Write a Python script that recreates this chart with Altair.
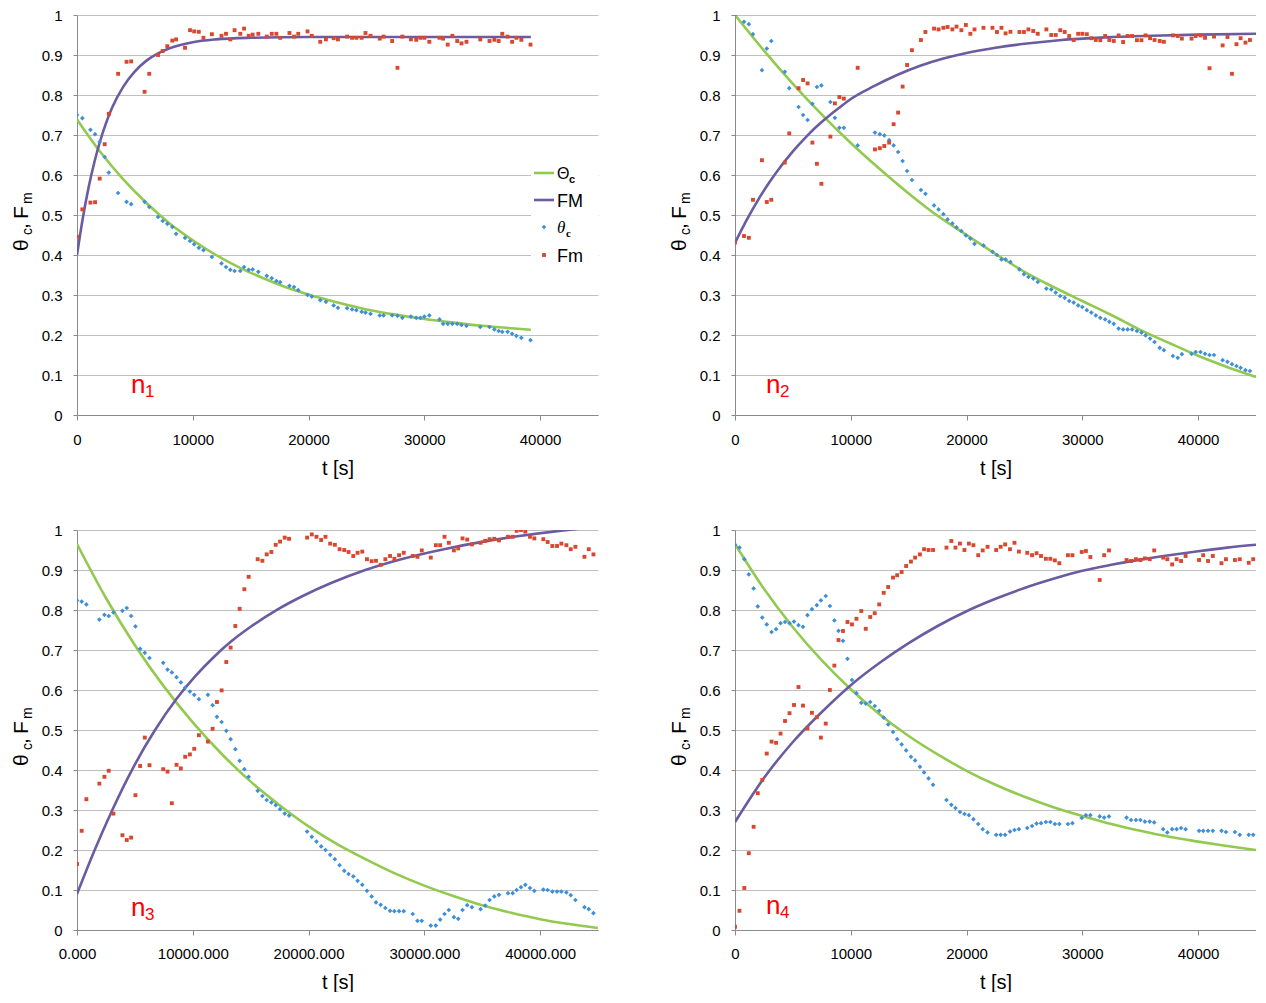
import altair as alt
import pandas as pd

FONT = "Liberation Sans"
GREEN = "#92C94F"
PURPLE = "#6B5BA0"
BLUE = "#3F8FD8"
RED = "#D9472F"
LABEL_RED = "#FF0000"

X_TICKS = [0, 10000, 20000, 30000, 40000]
Y_TICKS = [0, 0.1, 0.2, 0.3, 0.4, 0.5, 0.6, 0.7, 0.8, 0.9, 1.0]

# ---------------- panel n1 ----------------
T1 = [0, 460, 1160, 1560, 1960, 2390, 2750, 3550, 4280, 4680, 5840, 6240, 7000, 7400, 7800, 8230, 8560, 9330,
      9760, 10120, 10520, 10920, 11650, 12480, 12870, 13240, 13610, 14100, 14430, 14830, 15170, 15660, 16390,
      16820, 17220, 17550, 18350, 18750, 19110, 19910, 20280, 21010, 21500, 22170, 22540, 23330, 23760, 24130,
      24590, 24920, 25350, 26150, 26480, 27220, 27680, 28100, 28840, 29300, 29660, 30000, 30430, 31310, 31620,
      32020, 32420, 32840, 33210, 33640, 34830, 35630, 36050, 36420, 36730, 37190, 37580, 37950, 38380, 39170]
THETA1 = [0.750, 0.742, 0.713, 0.702, 0.683, 0.645, 0.606, 0.555, 0.533, 0.527, 0.533, 0.520, 0.495, 0.485, 0.478,
          0.470, 0.453, 0.443, 0.435, 0.427, 0.418, 0.412, 0.395, 0.379, 0.370, 0.363, 0.360, 0.360, 0.370, 0.363,
          0.364, 0.358, 0.348, 0.342, 0.335, 0.332, 0.323, 0.320, 0.312, 0.300, 0.296, 0.287, 0.283, 0.274, 0.268,
          0.267, 0.264, 0.262, 0.258, 0.256, 0.253, 0.249, 0.249, 0.249, 0.248, 0.243, 0.246, 0.243, 0.243, 0.246,
          0.249, 0.239, 0.228, 0.228, 0.228, 0.228, 0.225, 0.223, 0.220, 0.220, 0.214, 0.210, 0.208, 0.208, 0.203,
          0.198, 0.193, 0.187]
FMP1 = [0.446, 0.514, 0.531, 0.532, 0.591, 0.677, 0.753, 0.853, 0.883, 0.884, 0.808, 0.853, 0.900, 0.910, 0.922,
        0.936, 0.939, 0.918, 0.962, 0.959, 0.958, 0.943, 0.952, 0.948, 0.953, 0.939, 0.962, 0.953, 0.966, 0.948,
        0.951, 0.953, 0.946, 0.953, 0.953, 0.943, 0.955, 0.946, 0.953, 0.959, 0.948, 0.933, 0.939, 0.942, 0.939,
        0.946, 0.943, 0.943, 0.943, 0.955, 0.948, 0.941, 0.946, 0.935, 0.868, 0.946, 0.939, 0.938, 0.943, 0.943,
        0.933, 0.943, 0.941, 0.926, 0.948, 0.935, 0.929, 0.933, 0.939, 0.935, 0.938, 0.935, 0.953, 0.946, 0.933,
        0.943, 0.938, 0.926]
FIT1_TH_T = [0, 2000, 4000, 6000, 8000, 10000, 12000, 14000, 16000, 18000, 20000, 22500, 25000, 27500, 30000,
             32500, 35000, 37500, 39200]
FIT1_TH = [0.739, 0.658, 0.589, 0.530, 0.479, 0.437, 0.400, 0.369, 0.343, 0.320, 0.301, 0.281, 0.264, 0.251,
           0.240, 0.231, 0.223, 0.217, 0.213]
FIT1_FM_T = [0, 500, 1000, 1500, 2000, 2500, 3000, 4000, 5000, 6000, 7000, 8000, 10000, 12000, 15000, 20000,
             25000, 30000, 35000, 39200]
FIT1_FM = [0.400, 0.492, 0.569, 0.632, 0.685, 0.729, 0.766, 0.821, 0.859, 0.886, 0.904, 0.917, 0.932, 0.939,
           0.943, 0.945, 0.945, 0.945, 0.945, 0.945]

# ---------------- panel n2 ----------------
T2 = [0, 776, 1194, 1552, 2328, 2746, 3134, 4298, 4686, 5492, 5881, 6269, 6686, 7074, 7463, 8239, 8627, 9015,
      9403, 10597, 12089, 12507, 12895, 13313, 13701, 14089, 14477, 14865, 15283, 16059, 16447, 17193, 17582,
      17999, 18358, 18776, 19134, 19552, 19940, 20328, 20686, 21462, 22238, 22626, 23014, 23373, 23791, 24567,
      24955, 25343, 25761, 26149, 26895, 27313, 27701, 28089, 28477, 28865, 29253, 29641, 29999, 30387, 30776,
      31164, 31552, 31970, 32328, 32716, 33134, 33522, 33910, 34298, 34716, 35104, 35462, 35850, 36238, 36686,
      37044, 37821, 38239, 38597, 39433, 39791, 40209, 40597, 40985, 41373, 42119, 42537, 42925, 43313, 43671,
      44089, 44477]
THETA2 = [1.0, 0.983, 0.977, 0.952, 0.862, 0.916, 0.935, 0.858, 0.817, 0.77, 0.75, 0.7375, 0.778, 0.82, 0.824,
          0.7825, 0.743, 0.718, 0.718, 0.674, 0.706, 0.702, 0.699, 0.687, 0.674, 0.6575, 0.635, 0.61, 0.5875,
          0.5625, 0.553, 0.524, 0.514, 0.502, 0.489, 0.479, 0.469, 0.46, 0.449, 0.441, 0.428, 0.424, 0.408, 0.4,
          0.389, 0.389, 0.3825, 0.364, 0.352, 0.345, 0.341, 0.3325, 0.316, 0.314, 0.306, 0.2975, 0.293, 0.285,
          0.281, 0.274, 0.27, 0.262, 0.256, 0.249, 0.243, 0.239, 0.233, 0.228, 0.216, 0.214, 0.214, 0.214, 0.21,
          0.206, 0.199, 0.191, 0.1825, 0.168, 0.162, 0.1475, 0.143, 0.152, 0.153, 0.1575, 0.1575, 0.153, 0.15,
          0.15, 0.137, 0.133, 0.127, 0.1225, 0.118, 0.112, 0.11]
FMP2 = [0.431, 0.4475, 0.443, 0.538, 0.637, 0.5325, 0.538, 0.631, 0.704, 0.817, 0.8375, 0.829, 0.681, 0.628,
        0.578, 0.696, 0.779, 0.795, 0.791, 0.868, 0.664, 0.667, 0.6725, 0.681, 0.727, 0.756, 0.821, 0.875, 0.912,
        0.9375, 0.9575, 0.966, 0.964, 0.968, 0.97, 0.964, 0.971, 0.962, 0.975, 0.953, 0.964, 0.968, 0.968,
        0.9575, 0.968, 0.954, 0.958, 0.9575, 0.9575, 0.964, 0.96, 0.953, 0.964, 0.95, 0.95, 0.962, 0.9575,
        0.9475, 0.9375, 0.953, 0.953, 0.952, 0.942, 0.9375, 0.937, 0.9475, 0.9375, 0.935, 0.949, 0.9325, 0.9475,
        0.9475, 0.937, 0.937, 0.949, 0.942, 0.9375, 0.935, 0.933, 0.949, 0.9475, 0.941, 0.941, 0.9475, 0.949,
        0.943, 0.867, 0.946, 0.924, 0.945, 0.853, 0.927, 0.942, 0.931, 0.9375]
FIT2_TH_T = [0, 2500, 5000, 7500, 10000, 12500, 15000, 17500, 20000, 22500, 25000, 27500, 30000, 32500, 35000,
             37500, 40000, 42500, 45000]
FIT2_TH = [1.0, 0.911, 0.828, 0.751, 0.680, 0.615, 0.554, 0.498, 0.450, 0.403, 0.358, 0.320, 0.285, 0.250,
           0.213, 0.180, 0.148, 0.120, 0.095]
FIT2_FM_T = [0, 1000, 2000, 3000, 4000, 5000, 6000, 7000, 8000, 9000, 10000, 12000, 14000, 16000, 18000, 20000,
             22500, 25000, 28000, 32000, 36000, 40000, 45000]
FIT2_FM = [0.430, 0.487, 0.538, 0.583, 0.623, 0.659, 0.691, 0.720, 0.745, 0.768, 0.790, 0.822, 0.850, 0.873,
           0.891, 0.905, 0.918, 0.928, 0.937, 0.944, 0.948, 0.951, 0.953]

# ---------------- panel n3 ----------------
T3 = [0, 405, 810, 1931, 2367, 2741, 3146, 3925, 4299, 4673, 5046, 5451, 5856, 6261, 7445, 7819, 8192, 8597,
      8971, 9345, 9750, 10124, 10529, 11307, 11712, 12086, 12491, 12896, 13270, 13675, 14049, 14454, 14827,
      15606, 16011, 16385, 16790, 17164, 17537, 17942, 18316, 19874, 20279, 20684, 21089, 21462, 21867, 22272,
      22677, 23082, 23456, 23861, 24235, 24640, 25045, 25450, 25823, 26228, 26633, 27038, 27412, 27817, 28222,
      29000, 29406, 29779, 30558, 30994, 31368, 31742, 32116, 32552, 32926, 33299, 33704, 34109, 34857, 35262,
      35636, 36041, 36446, 37224, 37629, 37972, 38346, 38720, 39125, 39499, 40278, 40651, 41056, 41461, 41835,
      42271, 42645, 43050, 43828, 44202, 44607]
THETA3 = [0.824, 0.821, 0.814, 0.776, 0.788, 0.785, 0.794, 0.798, 0.805, 0.785, 0.759, 0.703, 0.693, 0.68,
          0.668, 0.651, 0.644, 0.632, 0.619, 0.606, 0.596, 0.588, 0.577, 0.588, 0.562, 0.533, 0.52, 0.498, 0.477,
          0.452, 0.423, 0.402, 0.383, 0.348, 0.335, 0.325, 0.319, 0.312, 0.302, 0.291, 0.286, 0.246, 0.233,
          0.221, 0.209, 0.2, 0.188, 0.177, 0.162, 0.148, 0.14, 0.134, 0.123, 0.113, 0.098, 0.084, 0.069, 0.063,
          0.055, 0.048, 0.047, 0.047, 0.047, 0.04, 0.023, 0.023, 0.011, 0.011, 0.026, 0.04, 0.05, 0.032, 0.028,
          0.05, 0.062, 0.057, 0.052, 0.061, 0.075, 0.084, 0.088, 0.092, 0.092, 0.1, 0.107, 0.113, 0.105, 0.098,
          0.101, 0.1, 0.096, 0.096, 0.096, 0.094, 0.087, 0.075, 0.057, 0.052, 0.042]
FMP3 = [0.165, 0.248, 0.327, 0.366, 0.383, 0.398, 0.291, 0.237, 0.225, 0.231, 0.337, 0.41, 0.481, 0.412, 0.402,
        0.396, 0.317, 0.413, 0.404, 0.433, 0.439, 0.453, 0.487, 0.471, 0.503, 0.57, 0.599, 0.67, 0.706, 0.76,
        0.803, 0.852, 0.883, 0.927, 0.923, 0.939, 0.945, 0.963, 0.971, 0.981, 0.978, 0.981, 0.989, 0.983, 0.975,
        0.983, 0.966, 0.963, 0.952, 0.95, 0.945, 0.935, 0.943, 0.946, 0.927, 0.922, 0.923, 0.913, 0.927, 0.935,
        0.928, 0.937, 0.943, 0.935, 0.933, 0.949, 0.931, 0.962, 0.962, 0.983, 0.968, 0.949, 0.954, 0.979, 0.976,
        0.964, 0.968, 0.973, 0.977, 0.978, 0.974, 0.983, 0.983, 0.998, 1.0, 0.996, 0.983, 0.979, 0.977, 0.97,
        0.96, 0.96, 0.966, 0.962, 0.952, 0.958, 0.933, 0.952, 0.939]
FIT3_TH_T = [0, 2500, 5000, 7500, 10000, 12500, 15000, 17500, 20000, 22500, 25000, 27500, 30000, 32500, 35000,
             37500, 40000, 42500, 45000]
FIT3_TH = [0.965, 0.830, 0.712, 0.609, 0.519, 0.440, 0.371, 0.312, 0.259, 0.214, 0.176, 0.141, 0.111, 0.085,
           0.062, 0.043, 0.027, 0.015, 0.005]
FIT3_FM_T = [0, 1500, 3000, 4800, 6700, 8600, 10200, 11800, 13300, 15000, 17300, 19500, 22000, 24900, 28000,
             32000, 35100, 38200, 42000, 45000]
FIT3_FM = [0.090, 0.198, 0.297, 0.403, 0.498, 0.578, 0.634, 0.682, 0.721, 0.758, 0.801, 0.835, 0.868, 0.900,
           0.927, 0.954, 0.971, 0.985, 0.999, 1.008]

# ---------------- panel n4 ----------------
T4 = [0, 387, 805, 1192, 1609, 1967, 2354, 2742, 3159, 3546, 3934, 4321, 4708, 5096, 5483, 5871, 6258, 6645,
      7063, 7420, 7837, 8195, 8582, 8940, 9327, 9715, 10102, 10490, 10907, 11294, 11682, 12069, 12456, 12844,
      13231, 13648, 14006, 14393, 14781, 15198, 15556, 15973, 16330, 16718, 17105, 18267, 18685, 19042, 19430,
      19817, 20204, 20592, 21009, 21396, 21814, 22559, 22946, 23333, 23751, 24138, 24525, 25241, 25658, 26045,
      26433, 26850, 27237, 27625, 28012, 28757, 29144, 29949, 30307, 30694, 31499, 31886, 32303, 33823, 34210,
      34628, 35015, 35402, 35820, 36207, 36982, 37339, 37757, 38144, 38531, 38919, 40081, 40439, 40856, 41273,
      42018, 42405, 43180, 43597, 44372, 44760]
THETA4 = [0.963, 0.956, 0.927, 0.889, 0.854, 0.809, 0.781, 0.764, 0.745, 0.752, 0.767, 0.77, 0.767, 0.771,
          0.762, 0.758, 0.787, 0.802, 0.812, 0.824, 0.835, 0.81, 0.774, 0.748, 0.723, 0.678, 0.625, 0.592, 0.568,
          0.566, 0.57, 0.56, 0.548, 0.531, 0.514, 0.495, 0.477, 0.464, 0.449, 0.433, 0.424, 0.408, 0.394, 0.379,
          0.363, 0.325, 0.313, 0.305, 0.295, 0.29, 0.287, 0.277, 0.265, 0.252, 0.244, 0.238, 0.238, 0.238, 0.246,
          0.25, 0.252, 0.255, 0.26, 0.266, 0.267, 0.27, 0.27, 0.265, 0.265, 0.265, 0.267, 0.28, 0.287, 0.287,
          0.284, 0.281, 0.284, 0.281, 0.275, 0.275, 0.275, 0.271, 0.271, 0.269, 0.252, 0.244, 0.252, 0.252, 0.255,
          0.252, 0.248, 0.248, 0.248, 0.248, 0.248, 0.245, 0.245, 0.238, 0.238, 0.238]
FMP4 = [0.008, 0.048, 0.105, 0.192, 0.258, 0.342, 0.375, 0.441, 0.471, 0.468, 0.491, 0.5225, 0.542, 0.5625,
        0.6075, 0.561, 0.504, 0.543, 0.532, 0.481, 0.516, 0.6, 0.661, 0.725, 0.7475, 0.77, 0.764, 0.778, 0.7975,
        0.753, 0.7825, 0.792, 0.814, 0.843, 0.8575, 0.881, 0.887, 0.895, 0.91, 0.921, 0.931, 0.939, 0.952, 0.95,
        0.95, 0.956, 0.9725, 0.956, 0.966, 0.95, 0.966, 0.962, 0.937, 0.949, 0.958, 0.95, 0.958, 0.964, 0.952,
        0.968, 0.946, 0.943, 0.937, 0.942, 0.935, 0.928, 0.928, 0.924, 0.917, 0.937, 0.937, 0.945, 0.9475,
        0.9325, 0.875, 0.937, 0.949, 0.925, 0.9225, 0.927, 0.925, 0.929, 0.927, 0.949, 0.931, 0.927, 0.914,
        0.927, 0.9225, 0.935, 0.925, 0.937, 0.9225, 0.935, 0.917, 0.927, 0.925, 0.927, 0.918, 0.927]
FIT4_TH_T = [0, 2500, 5000, 7500, 10000, 12500, 15000, 17500, 20000, 22500, 25000, 27500, 30000, 32500, 35000,
             37500, 40000, 42500, 45000]
FIT4_TH = [0.965, 0.853, 0.757, 0.674, 0.602, 0.539, 0.485, 0.439, 0.398, 0.363, 0.333, 0.307, 0.285, 0.265,
           0.248, 0.233, 0.221, 0.210, 0.200]
FIT4_FM_T = [0, 2500, 5000, 7500, 10000, 12500, 15000, 17500, 20000, 22500, 25000, 27500, 30000, 32500, 35000,
             37500, 40000, 42500, 45000]
FIT4_FM = [0.270, 0.380, 0.470, 0.545, 0.612, 0.668, 0.717, 0.760, 0.797, 0.828, 0.855, 0.878, 0.898, 0.913,
           0.926, 0.937, 0.947, 0.956, 0.963]

W, H = 521, 400
ONE = pd.DataFrame({"a": [0]})


def xenc(fmt, label_pad, title_pad):
    return alt.X("t:Q",
                 scale=alt.Scale(domain=[0, 45000], nice=False, zero=False),
                 axis=alt.Axis(values=X_TICKS, format=fmt, title="t [s]", titleFontSize=20,
                               titleFontWeight="normal", titleColor="black", titlePadding=title_pad,
                               labelFontSize=15, labelColor="black", labelPadding=label_pad, labelFlush=False,
                               labelOverlap=False, tickSize=5, tickColor="#8a8a8a", domainColor="#8a8a8a",
                               grid=False))


def yenc():
    return alt.Y("v:Q",
                 scale=alt.Scale(domain=[0, 1], nice=False),
                 axis=alt.Axis(values=Y_TICKS, format=".1~f", title=None, labelFontSize=15,
                               labelColor="black", labelPadding=11, labelFlush=False, tickSize=4,
                               tickColor="#8a8a8a", domainColor="#8a8a8a", grid=True, gridColor="#c0c0c0",
                               gridWidth=1))


def txt(s, x, y, size, color="black", angle=0, weight="normal", style="normal", font=FONT):
    return alt.Chart(ONE).mark_text(text=s, fontSize=size, angle=angle, align="left", baseline="alphabetic",
                                    color=color, font=font, fontWeight=weight, fontStyle=style).encode(
        x=alt.value(x), y=alt.value(y))


def ytitle():
    return [
        txt("θ", -49, 236, 21, angle=270),
        txt("c", -45, 220, 14, angle=270),
        txt(",", -49, 214, 21, angle=270),
        txt("F", -49, 204, 21, angle=270),
        txt("m", -45, 189, 14, angle=270),
    ]


def panel(t, theta, fm, th_t, th_v, fm_t, fm_v, fmt, label_pad, title_pad, label_x, label_y, label_num,
          extra=None):
    X = xenc(fmt, label_pad, title_pad)
    Y = yenc()
    d_th = pd.DataFrame({"t": th_t, "v": th_v})
    d_fm = pd.DataFrame({"t": fm_t, "v": fm_v})
    p_th = pd.DataFrame([{"t": a, "v": b} for a, b in zip(t, theta)])
    p_fm = pd.DataFrame([{"t": a, "v": b} for a, b in zip(t, fm)])
    l_th = alt.Chart(d_th).mark_line(color=GREEN, strokeWidth=2.6, interpolate="monotone", clip=True).encode(x=X, y=Y)
    l_fm = alt.Chart(d_fm).mark_line(color=PURPLE, strokeWidth=2.6, interpolate="monotone", clip=True).encode(x=X, y=Y)
    s_th = alt.Chart(p_th).mark_point(shape="diamond", filled=True, size=22, color=BLUE, opacity=1,
                                      clip=True).encode(x=X, y=Y)
    s_fm = alt.Chart(p_fm).mark_square(size=15, color=RED, opacity=1, clip=True).encode(x=X, y=Y)
    layers = [l_th, l_fm, s_th, s_fm]
    layers += [txt("n", label_x, label_y, 26, color=LABEL_RED),
               txt(label_num, label_x + 14, label_y + 4, 17, color=LABEL_RED)]
    layers += ytitle()
    if extra:
        layers += extra
    return alt.layer(*layers).properties(width=W, height=H)


def legend_layers():
    box = alt.Chart(ONE).mark_rect(color="white").encode(
        x=alt.value(454), x2=alt.value(521), y=alt.value(146), y2=alt.value(252))
    g = alt.Chart(ONE).mark_rule(color=GREEN, strokeWidth=2.6).encode(
        x=alt.value(457), x2=alt.value(477), y=alt.value(158))
    p = alt.Chart(ONE).mark_rule(color=PURPLE, strokeWidth=2.6).encode(
        x=alt.value(457), x2=alt.value(477), y=alt.value(185))
    b = alt.Chart(ONE).mark_point(shape="diamond", filled=True, size=22, color=BLUE, opacity=1).encode(
        x=alt.value(467), y=alt.value(212))
    r = alt.Chart(ONE).mark_square(size=15, color=RED, opacity=1).encode(
        x=alt.value(467), y=alt.value(240))
    return [box, g, p, b, r,
            txt("Θ", 480, 164, 16),
            txt("c", 492, 168, 11, weight="bold"),
            txt("FM", 480, 192, 18),
            txt("θ", 480, 218, 17, style="italic", font="Liberation Serif"),
            txt("c", 489, 222, 11, weight="bold", font="Liberation Serif"),
            txt("Fm", 480, 247, 18)]


p1 = panel(T1, THETA1, FMP1, FIT1_TH_T, FIT1_TH, FIT1_FM_T, FIT1_FM, "d", 12, 11, 54, 378, "1",
           extra=legend_layers())
p2 = panel(T2, THETA2, FMP2, FIT2_TH_T, FIT2_TH, FIT2_FM_T, FIT2_FM, "d", 12, 11, 31, 378, "2")
p3 = panel(T3, THETA3, FMP3, FIT3_TH_T, FIT3_TH, FIT3_FM_T, FIT3_FM, ".3f", 11, 11, 54, 386, "3")
p4 = panel(T4, THETA4, FMP4, FIT4_TH_T, FIT4_TH, FIT4_FM_T, FIT4_FM, "d", 11, 11, 31, 384, "4")

chart = alt.concat(p1, p2, p3, p4, columns=2, spacing={"row": 115, "column": 137}, bounds="flush").properties(
    padding={"left": 3, "top": 0, "right": 0, "bottom": 0}
).configure_view(strokeWidth=0).configure_axis(labelFont=FONT, titleFont=FONT).configure_text(font=FONT)

chart.save("out.html", embed_options={"renderer": "svg", "actions": False})
